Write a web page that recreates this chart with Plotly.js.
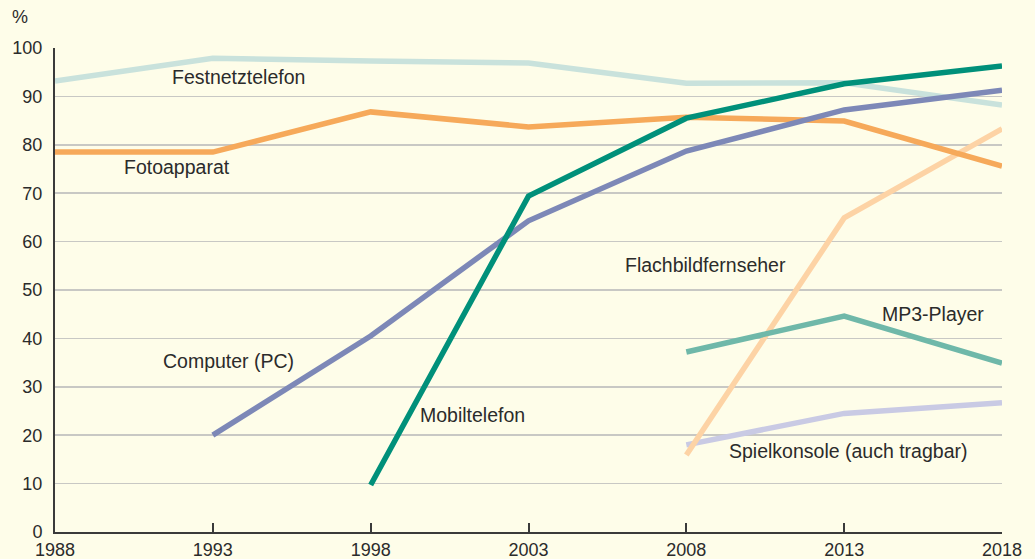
<!DOCTYPE html>
<html>
<head>
<meta charset="utf-8">
<script src="https://cdn.plot.ly/plotly-3.0.1.min.js"></script>
<style>html,body{margin:0;padding:0;background:#fefde9;}#chart{width:1035px;height:559px;}</style>
</head>
<body>
<div id="chart"></div>
<script>
var years = [1988, 1993, 1998, 2003, 2008, 2013, 2018];
var festnetz = [93.2, 97.9, 97.3, 96.9, 92.7, 92.8, 88.2];
var foto = [78.5, 78.5, 86.8, 83.7, 85.7, 84.9, 75.6];
var mobil = [null, null, 9.7, 69.4, 85.5, 92.6, 96.3];
var computer = [null, 20.0, 40.5, 64.3, 78.7, 87.2, 91.3];
var flachbild = [null, null, null, null, 15.9, 64.9, 83.3];
var mp3 = [null, null, null, null, 37.2, 44.6, 34.9];
var spiel = [null, null, null, null, 18.0, 24.5, 26.7];

var labels = {
  festnetz: "Festnetztelefon",
  foto: "Fotoapparat",
  mobil: "Mobiltelefon",
  computer: "Computer (PC)",
  flachbild: "Flachbildfernseher",
  mp3: "MP3-Player",
  spiel: "Spielkonsole (auch tragbar)"
};
var colors = {
  festnetz: "#c9e2dc",
  foto: "#f6a95a",
  mobil: "#00907a",
  computer: "#7d88b7",
  flachbild: "#fdd3a5",
  mp3: "#6fb8a9",
  spiel: "#c9cae4"
};
var series = {festnetz: festnetz, foto: foto, mobil: mobil, computer: computer, flachbild: flachbild, mp3: mp3, spiel: spiel};
var order = ["festnetz", "spiel", "flachbild", "foto", "mp3", "computer", "mobil"];

var traces = order.map(function (k) {
  return {
    x: years, y: series[k], type: "scatter", mode: "lines", name: labels[k],
    line: {color: colors[k], width: 5.5}, connectgaps: false, hoverinfo: "skip"
  };
});

var font = "Liberation Sans, Arial, sans-serif";
var labelPos = {
  festnetz: [1993.8, 94.0],
  foto: [1991.86, 75.4],
  computer: [1993.5, 35.3],
  mobil: [2001.24, 24.2],
  flachbild: [2008.62, 55.2],
  mp3: [2015.81, 45.0],
  spiel: [2013.12, 16.7]
};
var annotations = Object.keys(labelPos).map(function (k) {
  return {x: labelPos[k][0], y: labelPos[k][1], xref: "x", yref: "y", text: labels[k],
    showarrow: false, xanchor: "center", yanchor: "middle",
    font: {family: font, size: 19.5, color: "#2b2b2b"}};
});
annotations.push({xref: "paper", yref: "paper", x: (20 - 55) / 947, y: 1 + (48 - 17) / 484,
  xanchor: "center", yanchor: "middle", text: "%", showarrow: false,
  font: {family: font, size: 18, color: "#2b2b2b"}});

var layout = {
  width: 1035, height: 559,
  margin: {l: 55, r: 33, t: 48, b: 27, pad: 0},
  paper_bgcolor: "#fefde9", plot_bgcolor: "#fefde9",
  showlegend: false,
  font: {family: font, size: 18, color: "#2b2b2b"},
  xaxis: {
    range: [1988, 2018], tickvals: years, ticktext: years.map(String),
    showgrid: false, zeroline: false, showline: true, linecolor: "#3a3a3a", linewidth: 2,
    ticks: "inside", ticklen: 9, tickwidth: 2, tickcolor: "#3a3a3a",
    tickfont: {family: font, size: 18, color: "#2b2b2b"}, fixedrange: true
  },
  yaxis: {
    range: [0, 100], tickvals: [0,10,20,30,40,50,60,70,80,90,100],
    showgrid: true, gridcolor: "#c8c8c4", gridwidth: 1.5, zeroline: false,
    showline: true, linecolor: "#3a3a3a", linewidth: 2, ticks: "",
    ticklabelstandoff: 7,
    tickfont: {family: font, size: 18, color: "#2b2b2b"}, fixedrange: true
  },
  annotations: annotations
};
Plotly.newPlot("chart", traces, layout, {displayModeBar: false, staticPlot: true});
</script>
</body>
</html>
